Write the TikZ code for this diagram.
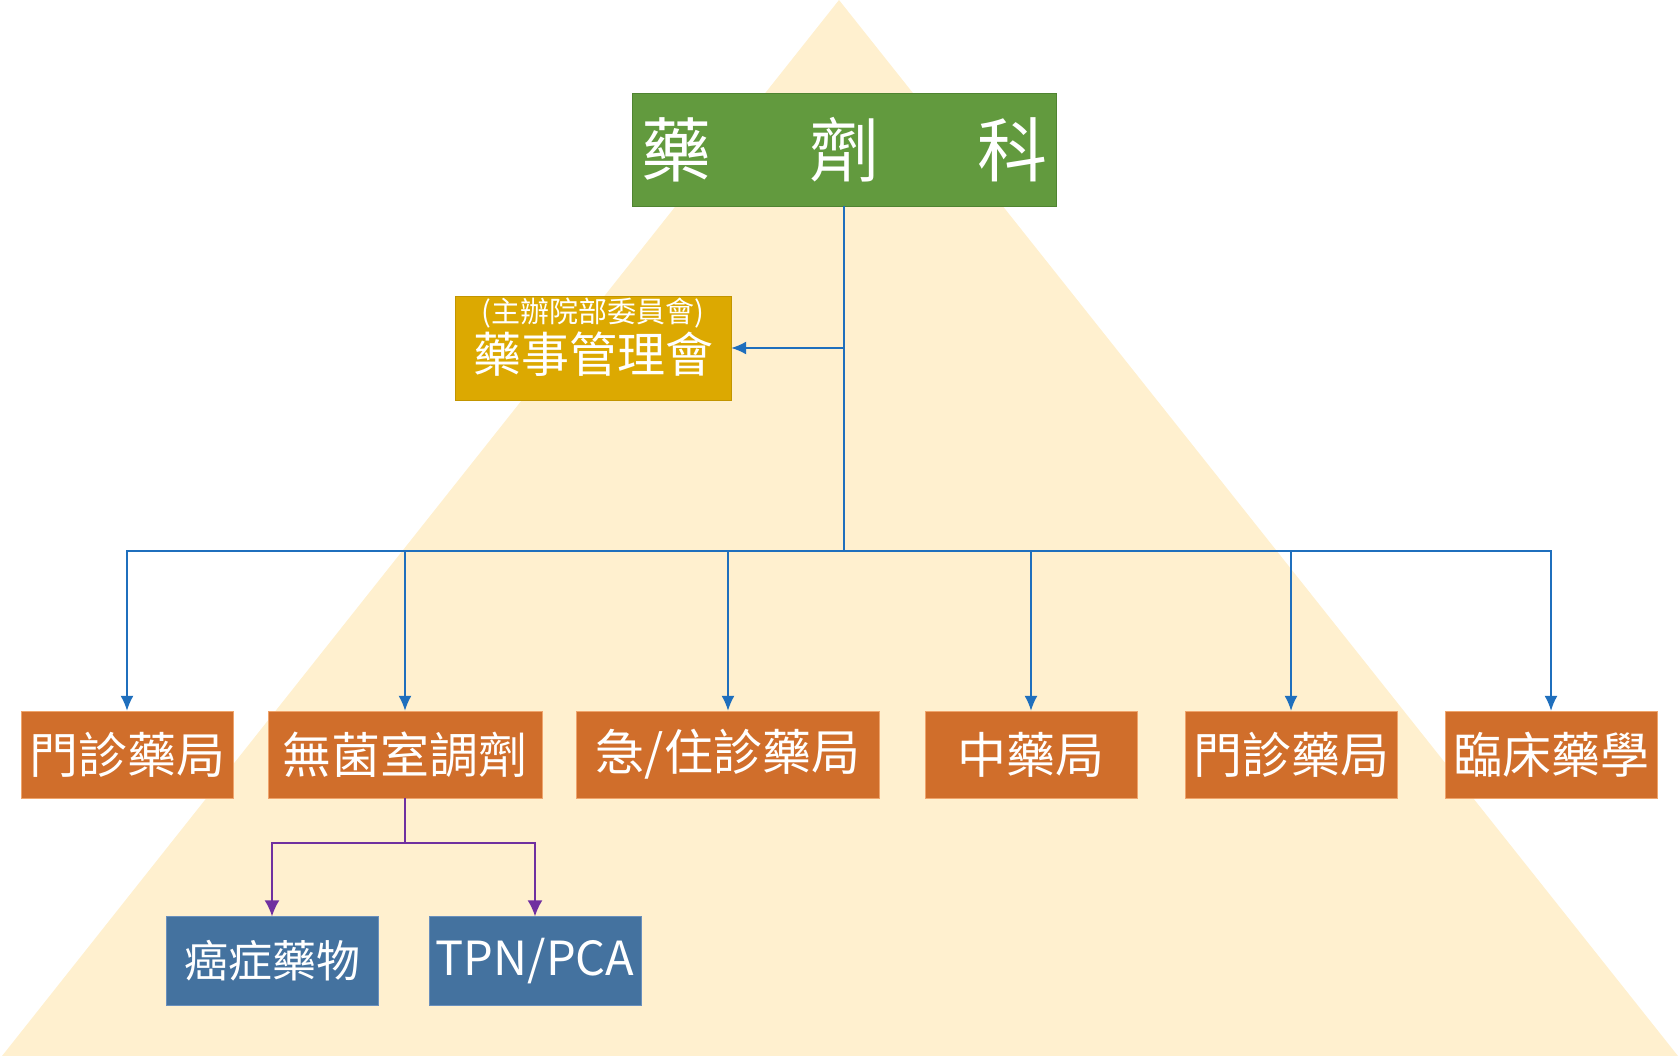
\documentclass[tikz,border=0pt]{standalone}
\usepackage{fontspec}
\newfontfamily\cjk{Noto Sans CJK TC}
\usetikzlibrary{arrows.meta,positioning}

\definecolor{pyramid}{HTML}{FFF0CF}
\definecolor{deptgreen}{HTML}{629A3E}
\definecolor{deptedge}{HTML}{4F8431}
\definecolor{cmtgold}{HTML}{DCA901}
\definecolor{cmtedge}{HTML}{C29500}
\definecolor{unitorange}{HTML}{D06E2B}
\definecolor{unitedge}{HTML}{EFA46C}
\definecolor{subblue}{HTML}{44729F}
\definecolor{subedge}{HTML}{6A90BD}
\definecolor{feedblue}{HTML}{1F6FBD}
\definecolor{subpurple}{HTML}{7030A0}

\begin{document}
\begin{tikzpicture}[
  x=1pt, y=-1pt,
  every node/.style={font=\cjk, text=white, inner sep=0pt},
  dept/.style={draw=deptedge, fill=deptgreen, minimum width=424pt, minimum height=113pt,
    font=\cjk\fontsize{70}{80}\selectfont},
  cmt/.style={draw=cmtedge, fill=cmtgold, minimum width=276pt, minimum height=104pt,
    align=center, text depth=26pt, font=\cjk\fontsize{48}{42}\selectfont},
  unit/.style={draw=unitedge, fill=unitorange, minimum height=87pt,
    font=\cjk\fontsize{49}{56}\selectfont},
  subunit/.style={draw=subedge, fill=subblue, minimum width=212pt, minimum height=89pt,
    font=\cjk\fontsize{44}{52}\selectfont},
  feed/.style={-{Latex[length=15pt,width=13pt]}, line width=1.6pt, feedblue},
  branch/.style={-{Latex[length=16pt,width=15pt]}, line width=1.6pt, subpurple}
]
\useasboundingbox (0,0) rectangle (1678,1056);
% background pyramid
\fill[pyramid] (2,1056) -- (839,0) -- (1678,1056) -- cycle;

\node[dept] (dept) at (844,149.5) {\makebox[406pt]{藥\hfill 劑\hfill 科}};
\node[cmt] (cmt) at (593,348)
  {{\fontsize{29}{32}\selectfont (主辦院部委員會)}\\[3pt]藥事管理會};

\node[unit, minimum width=212pt] (u1) at (127,754.5) {門診藥局};
\node[unit, minimum width=274pt] (u2) at (405,754.5) {無菌室調劑};
\node[unit, minimum width=303pt] (u3) at (728,754.5) {急/住診藥局};
\node[unit, minimum width=212pt] (u4) at (1031,754.5) {中藥局};
\node[unit, minimum width=212pt] (u5) at (1291,754.5) {門診藥局};
\node[unit, minimum width=212pt] (u6) at (1551,754.5) {臨床藥學};

\node[subunit] (s1) at (272,961) {癌症藥物};
\node[subunit, font=\cjk\fontsize{47}{56}\selectfont] (s2) at (535,961) {TPN/PCA};

% blue feed lines
\coordinate (bus) at (844,551);
\draw[line width=1.6pt, feedblue] (dept.south) -- (bus);
\draw[feed] (dept.south |- cmt.east) -- (cmt.east);
\foreach \u in {u1,u2,u3,u4,u5,u6}
  \draw[feed] (bus) -| (\u.north);

% purple branch
\coordinate (split) at (405,843);
\draw[line width=1.6pt, subpurple] (u2.south) -- (split);
\foreach \s in {s1,s2}
  \draw[branch] (split) -| (\s.north);
\end{tikzpicture}
\end{document}
